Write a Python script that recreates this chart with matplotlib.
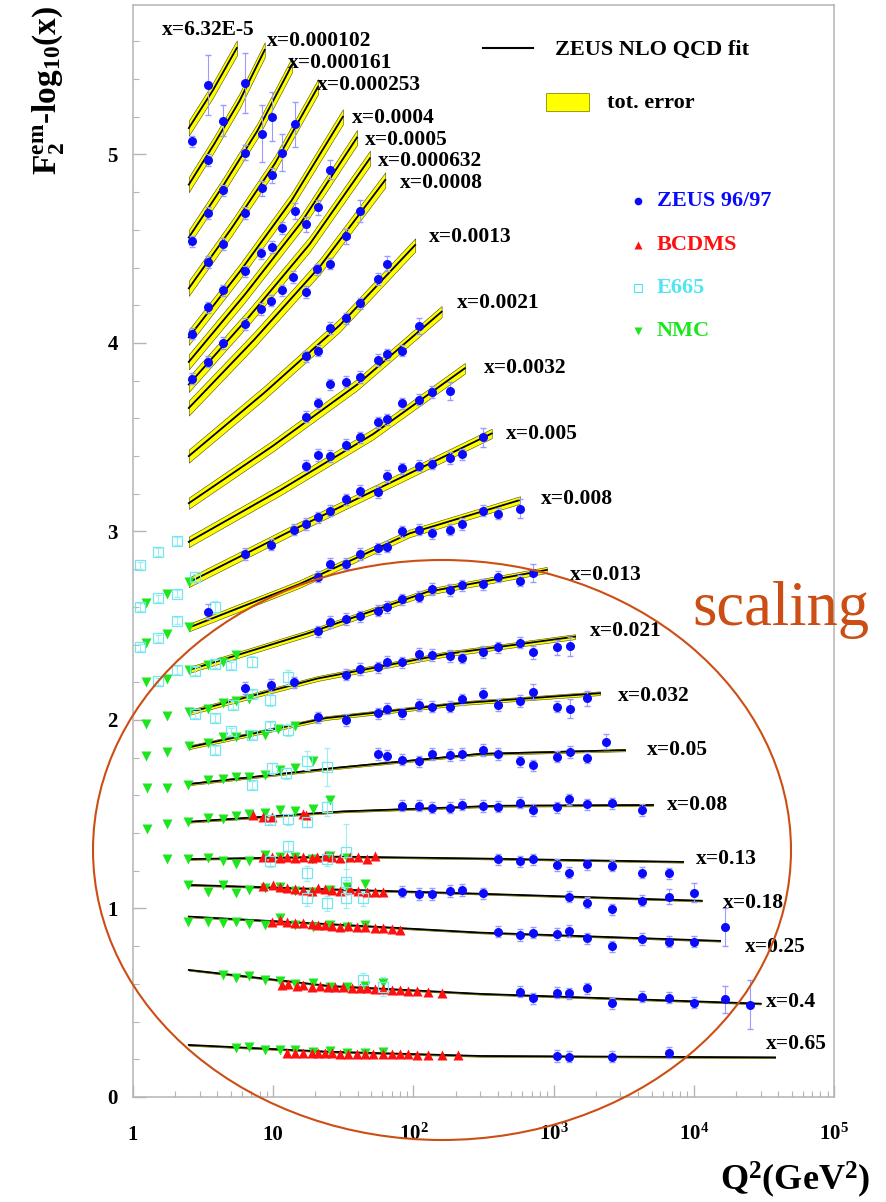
import numpy as np
import matplotlib.pyplot as plt
from matplotlib.patches import Ellipse, Rectangle
from matplotlib.lines import Line2D
import matplotlib.transforms as mtransforms

plt.rcParams['font.family'] = ['Liberation Serif', 'DejaVu Serif']
plt.rcParams['font.weight'] = 'bold'
plt.rcParams['mathtext.fontset'] = 'custom'
plt.rcParams['mathtext.rm'] = 'Liberation Serif:bold'
plt.rcParams['mathtext.it'] = 'Liberation Serif:bold'
plt.rcParams['mathtext.bf'] = 'Liberation Serif:bold'

# ---- x bins and their labels ----
bin_names = ['x=6.32E-5', 'x=0.000102', 'x=0.000161', 'x=0.000253', 'x=0.0004',
             'x=0.0005', 'x=0.000632', 'x=0.0008', 'x=0.0013', 'x=0.0021',
             'x=0.0032', 'x=0.005', 'x=0.008', 'x=0.013', 'x=0.021', 'x=0.032',
             'x=0.05', 'x=0.08', 'x=0.13', 'x=0.18', 'x=0.25', 'x=0.4', 'x=0.65']

# ---- ZEUS NLO QCD fit (Q2, F2 - log10 x) ----
fit_q2 = [
    [2.5, 3.71, 5.5],
    [2.5, 3.79, 5.74, 8.7],
    [2.5, 4.40, 7.73, 13.6],
    [2.5, 5.07, 10.3, 20.9],
    [2.5, 5.81, 13.5, 31.4],
    [2.5, 6.28, 15.8, 39.6],
    [2.5, 6.74, 18.2, 49],
    [2.5, 7.33, 21.5, 63],
    [2.5, 8.64, 29.8, 103],
    [2.5, 9.98, 39.8, 159],
    [2.5, 11.3, 51.4, 233],
    [2.5, 13.1, 69, 362],
    [2.5, 15.3, 94, 576],
    [2.5, 17.7, 126, 893],
    [2.5, 20.7, 171, 1420],
    [2.5, 23.7, 225, 2140],
    [2.5, 27.2, 297, 3230],
    [2.5, 31.7, 403, 5120],
    [2.5, 30, 300, 8380],
    [2.5, 30, 250, 11400],
    [2.5, 25, 300, 15400],
    [2.5, 25, 300, 30000],
    [2.5, 25, 300, 38000],
]
fit_val = [
    [5.14, 5.34, 5.565],
    [4.84, 5.055, 5.283, 5.555],
    [4.56, 4.835, 5.127, 5.475],
    [4.29, 4.611, 4.953, 5.36],
    [4.03, 4.381, 4.755, 5.20],
    [3.90, 4.257, 4.638, 5.09],
    [3.78, 4.14, 4.524, 4.98],
    [3.655, 4.018, 4.405, 4.865],
    [3.40, 3.736, 4.094, 4.52],
    [3.15, 3.455, 3.78, 4.166],
    [2.945, 3.221, 3.516, 3.866],
    [2.73, 3.0, 3.26, 3.52],
    [2.49, 2.72, 2.99, 3.167],
    [2.265, 2.46, 2.68, 2.796],
    [2.04, 2.22, 2.35, 2.442],
    [1.855, 2.01, 2.09, 2.142],
    [1.66, 1.745, 1.82, 1.84],
    [1.46, 1.515, 1.545, 1.549],
    [1.262, 1.275, 1.265, 1.247],
    [1.125, 1.10, 1.08, 1.041],
    [0.957, 0.917, 0.872, 0.828],
    [0.674, 0.589, 0.547, 0.495],
    [0.276, 0.24, 0.2175, 0.21],
]
fit_err = [0.04, 0.04, 0.04, 0.04, 0.04, 0.04, 0.04, 0.04, 0.035, 0.03, 0.028,
           0.025, 0.02, 0.016, 0.013, 0.01, 0.006, 0.005, 0.004, 0.004, 0.004,
           0.004, 0.004]

# ---- ZEUS 96/97 (small-x region first, then one line per x bin) ----
zeus_q2 = [2.62, 3.45, 3.45, 4.4, 6.3, 2.62, 3.45, 4.4, 6.3, 8.27, 9.75,
           3.45, 4.4, 6.3, 8.27, 9.75, 11.5, 14.3, 8.2, 9.75, 11.5, 14.3, 17.1,
           21.0, 25.4, 32.9, 41.6, 2.62, 3.45, 4.4, 6.3, 8.2, 9.6, 11.5, 13.9,
           17.1, 20.4, 25.4, 55.6, 64.5, 6.3, 4.4, 3.45, 2.65, 17.1, 21.0, 25.4,
           32.9, 41.6, 25.4, 32.9, 41.6, 55.6, 64.5, 83, 110, 21, 17.1, 32.9,
           41.6, 55.6, 64.5, 83, 110, 136, 182, 25.4, 21, 17.1, 64.5, 83, 110,
           136, 182, 223, 316, 6.3, 9.6, 14.1, 17.1, 21, 25.4, 32.9, 41.6, 55.6,
           21, 25.4, 32.9, 41.6, 55.6, 64.5, 83, 110, 136, 182, 223, 316, 404, 572,
           21, 25.4, 32.9, 41.6, 55.6, 64.5, 83, 110, 136, 182, 223, 316, 404, 572, 718,
           3.45,
           6.3, 9.6, 14.1, 32.9, 41.6, 55.6, 64.5, 83, 110, 136, 182, 223, 316, 404, 572, 718, 1050, 1310,
           21, 32.9, 55.6, 64.5, 83, 110, 136, 182, 223, 316, 404, 572, 718, 1050, 1310, 1730,
           55.6, 64.5, 83, 110, 136, 182, 223, 316, 404, 572, 709, 1050, 1310, 1730, 2370,
           83, 110, 136, 182, 223, 312, 403, 576, 709, 1052, 1295, 1722, 2600, 4250,
           403, 576, 709, 1052, 1295, 1722, 2600, 4250, 6650,
           83, 110, 136, 182, 223, 312, 1295, 1722, 2600, 4250, 6650, 10100,
           403, 576, 709, 1052, 1295, 1722, 2600, 4250, 6650, 10100, 16600,
           576, 709, 1052, 1295, 1722, 2600, 4250, 6650, 10100, 16600, 25000,
           1052, 1295, 2600, 6650]
zeus_f2 = [5.07, 5.37, 4.97, 5.18, 5.38, 4.54, 4.69, 4.81, 5.01, 5.11, 5.20,
           4.43, 4.525, 4.69, 4.82, 4.89, 5.01, 5.16, 4.475, 4.51, 4.61, 4.70, 4.63,
           4.72, 4.92, 4.565, 4.70, 4.05, 4.19, 4.28, 4.38, 4.18, 4.225, 4.28, 4.35,
           4.27, 4.39, 4.42, 4.34, 4.42, 4.10, 4.00, 3.90, 3.81, 3.93, 3.96, 4.08,
           4.13, 4.21, 3.78, 3.795, 3.82, 3.91, 3.94, 3.96, 4.09, 3.68, 3.61, 3.46,
           3.50, 3.58, 3.595, 3.68, 3.70, 3.74, 3.745, 3.40, 3.405, 3.35, 3.295, 3.335, 3.35,
           3.36, 3.39, 3.41, 3.50, 2.88, 2.93, 3.01, 3.04, 3.075, 3.11, 3.17, 3.215, 3.21,
           2.76, 2.83, 2.83, 2.88, 2.91, 2.92, 3.00, 3.01, 2.99, 3.01, 3.04, 3.11, 3.095, 3.12,
           2.47, 2.52, 2.535, 2.55, 2.58, 2.60, 2.64, 2.655, 2.695, 2.69, 2.715, 2.72, 2.76, 2.74, 2.78,
           2.575,
           2.17, 2.185, 2.20, 2.24, 2.27, 2.28, 2.31, 2.305, 2.35, 2.345, 2.34, 2.33, 2.36, 2.385, 2.41, 2.36, 2.385, 2.39,
           2.015, 2.00, 2.035, 2.06, 2.035, 2.08, 2.07, 2.07, 2.11, 2.14, 2.08, 2.10, 2.15, 2.07, 2.06, 2.115,
           1.82, 1.81, 1.79, 1.78, 1.82, 1.815, 1.82, 1.84, 1.82, 1.78, 1.76, 1.805, 1.83, 1.80, 1.885,
           1.545, 1.545, 1.535, 1.535, 1.55, 1.544, 1.54, 1.561, 1.523, 1.537, 1.58, 1.553, 1.558, 1.523,
           1.26, 1.25, 1.26, 1.23, 1.19, 1.235, 1.227, 1.19, 1.187,
           1.09, 1.077, 1.077, 1.093, 1.098, 1.08, 1.063, 1.031, 0.996, 1.042, 1.063, 1.084,
           0.877, 0.86, 0.872, 0.865, 0.88, 0.842, 0.80, 0.838, 0.824, 0.824, 0.90,
           0.559, 0.524, 0.553, 0.55, 0.577, 0.497, 0.532, 0.527, 0.50, 0.518, 0.49,
           0.217, 0.214, 0.214, 0.235]
zeus_err = [0.03, 0.16, 0.03, 0.08, 0.16, 0.03, 0.03, 0.03, 0.04, 0.15, 0.13,
            0.03, 0.03, 0.03, 0.04, 0.04, 0.10, 0.12, 0.03, 0.03, 0.03, 0.04, 0.04,
            0.04, 0.05, 0.04, 0.06, 0.03, 0.03, 0.03, 0.03, 0.03, 0.03, 0.03, 0.03,
            0.03, 0.03, 0.03, 0.03, 0.04, 0.03, 0.03, 0.03, 0.03, 0.03, 0.03, 0.03,
            0.03, 0.03, 0.03, 0.03, 0.03, 0.03, 0.03, 0.03, 0.04, 0.03, 0.03, 0.03,
            0.03, 0.03, 0.03, 0.03, 0.03, 0.03, 0.05, 0.03, 0.03, 0.03, 0.03, 0.03, 0.03,
            0.03, 0.03, 0.03, 0.05, 0.03, 0.03, 0.03, 0.03, 0.03, 0.03, 0.03, 0.03, 0.03,
            0.03, 0.03, 0.03, 0.03, 0.03, 0.03, 0.03, 0.03, 0.03, 0.03, 0.03, 0.03, 0.03, 0.05,
            0.03, 0.03, 0.03, 0.03, 0.03, 0.03, 0.03, 0.03, 0.03, 0.03, 0.03, 0.03, 0.03, 0.03, 0.05,
            0.04,
            0.03, 0.03, 0.03, 0.03, 0.03, 0.03, 0.03, 0.03, 0.03, 0.03, 0.03, 0.03, 0.03, 0.03, 0.03, 0.035, 0.04, 0.05,
            0.03, 0.03, 0.03, 0.03, 0.03, 0.03, 0.03, 0.03, 0.03, 0.03, 0.03, 0.03, 0.04, 0.03, 0.05, 0.04,
            0.03, 0.03, 0.03, 0.03, 0.03, 0.03, 0.03, 0.03, 0.03, 0.03, 0.03, 0.03, 0.03, 0.03, 0.04,
            0.03, 0.03, 0.03, 0.03, 0.03, 0.03, 0.03, 0.03, 0.03, 0.03, 0.03, 0.03, 0.03, 0.03,
            0.03, 0.03, 0.03, 0.03, 0.03, 0.03, 0.03, 0.03, 0.03,
            0.03, 0.03, 0.03, 0.03, 0.03, 0.03, 0.03, 0.03, 0.03, 0.03, 0.04, 0.05,
            0.03, 0.03, 0.03, 0.03, 0.03, 0.03, 0.03, 0.03, 0.03, 0.03, 0.10,
            0.03, 0.03, 0.03, 0.03, 0.03, 0.03, 0.03, 0.03, 0.03, 0.07, 0.13,
            0.03, 0.03, 0.03, 0.03]

# ---- NMC ----
nmc_q2 = [1.24, 1.74, 2.52,
          1.24, 1.74, 2.52,
          1.24, 1.74, 2.52, 3.45, 4.4, 5.42,
          1.24, 1.74, 2.52, 3.45, 4.4, 5.42, 6.67,
          1.24, 1.74, 2.52, 3.45, 4.4, 5.42, 6.67, 8.7, 10.9, 14.3,
          1.25, 1.74, 2.48, 3.45, 4.4, 5.42, 6.75, 8.7, 11.2, 14.3, 19.1,
          1.25, 1.74, 2.48, 3.45, 4.4, 5.42, 6.75, 8.7, 11.2, 14.3, 19.1, 25.4,
          1.74, 2.48, 3.45, 4.4, 5.42, 6.75, 8.7, 11.2, 14.3, 18.8, 25.4, 33.5,
          2.48, 3.45, 4.4, 5.42, 6.75, 8.7, 11.2, 14.3, 19.1, 25.4, 33.5, 45,
          2.48, 3.45, 4.4, 5.42, 6.75, 8.7, 11.2, 14.3, 19.1, 25.4, 33.5, 45,
          4.4, 5.42, 6.75, 8.7, 11.2, 14.3, 19.1, 25.4, 33.5, 45, 61,
          5.42, 6.75, 8.7, 11.2, 14.3, 19.1, 25.4, 33.5, 45, 61]
nmc_f2 = [2.62, 2.67, 2.73,
          2.41, 2.455, 2.495,
          2.20, 2.22, 2.265, 2.29, 2.31, 2.345,
          1.98, 2.02, 2.04, 2.06, 2.09, 2.10, 2.11,
          1.81, 1.83, 1.86, 1.88, 1.91, 1.91, 1.92, 1.92, 1.95, 1.97,
          1.64, 1.64, 1.655, 1.68, 1.685, 1.695, 1.70, 1.71, 1.735, 1.745, 1.78,
          1.42, 1.45, 1.46, 1.48, 1.475, 1.49, 1.50, 1.505, 1.52, 1.515, 1.53, 1.575,
          1.265, 1.265, 1.27, 1.25, 1.235, 1.25, 1.285, 1.275, 1.275, 1.265, 1.28, 1.27,
          1.125, 1.085, 1.125, 1.08, 1.10, 1.107, 1.115, 1.095, 1.09, 1.10, 1.115, 1.13,
          0.93, 0.93, 0.925, 0.93, 0.92, 0.91, 0.95, 0.91, 0.90, 0.91, 0.90, 0.91,
          0.647, 0.63, 0.64, 0.62, 0.617, 0.60, 0.603, 0.585, 0.585, 0.59, 0.603,
          0.258, 0.267, 0.25, 0.25, 0.25, 0.24, 0.244, 0.235, 0.235, 0.237]

# ---- BCDMS ----
bcdms_q2 = [7.21, 8.42, 9.75, 16.2, 17.1,
            8.42, 9.76, 11.2, 12.5, 14.3, 16.4, 18.8, 20.4, 23.4, 26.1, 29.9, 35.3, 40.4, 46.5, 53.2,
            8.5, 9.9, 11.2, 12.5, 14.3, 16.4, 18.8, 21.0, 23.4, 26.1, 29.9, 35.3, 40.4, 46.5, 53.2, 61.0,
            9.76, 11.2, 12.5, 14.3, 16.4, 18.8, 21.0, 23.4, 26.1, 29.9, 34.4, 39.4, 45.1, 53.2, 61.0, 70.0, 80.2,
            11.5, 12.8, 14.7, 16.4, 18.8, 21.6, 24.7, 27.6, 31.6, 36.3, 41.6, 46.5, 53.2, 61.0, 70.0,
            80.2, 92.0, 105.6, 127.7, 159,
            12.5, 14.3, 16.4, 18.8, 21.0, 23.4, 26.1, 29.9, 34.4, 39.4, 45.1, 51.7, 61.0, 70.0, 80.2,
            92.0, 105.6, 127.7, 159, 209]
bcdms_f2 = [1.496, 1.487, 1.484, 1.50, 1.495,
            1.275, 1.272, 1.266, 1.272, 1.266, 1.275, 1.266, 1.272, 1.279, 1.272, 1.266, 1.272, 1.275,
            1.261, 1.279,
            1.121, 1.125, 1.116, 1.110, 1.102, 1.098, 1.094, 1.107, 1.102, 1.098, 1.094, 1.102, 1.094,
            1.089, 1.089, 1.089,
            0.930, 0.939, 0.930, 0.925, 0.921, 0.918, 0.912, 0.912, 0.907, 0.903, 0.907, 0.900, 0.900,
            0.895, 0.895, 0.890, 0.886,
            0.594, 0.598, 0.589, 0.594, 0.585, 0.589, 0.585, 0.582, 0.582, 0.580, 0.577, 0.577, 0.571,
            0.571, 0.568, 0.568, 0.564, 0.564, 0.559, 0.553,
            0.235, 0.235, 0.235, 0.232, 0.232, 0.232, 0.232, 0.228, 0.228, 0.228, 0.228, 0.228, 0.227,
            0.227, 0.227, 0.227, 0.223, 0.223, 0.223, 0.223]

# ---- E665 ----
e665_q2 = [2.05, 1.52, 1.12, 2.77, 2.05, 1.52, 1.12, 3.84, 2.05, 1.52, 1.12, 2.77, 2.05, 1.52,
           3.84, 4.98, 7.03, 2.77, 3.84, 5.14, 7.03, 9.5, 12.8, 3.84, 4.98, 7.03, 9.5, 12.8,
           7.03, 9.75, 12.4, 17.3, 24, 9.5, 12.8, 17.3, 24, 12.8, 9.5, 17.3, 24, 33, 33,
           17.3, 24, 33, 43.9, 43.9, 61]
e665_f2 = [2.95, 2.89, 2.82, 2.757, 2.67, 2.645, 2.60, 2.60, 2.527, 2.433, 2.385, 2.26, 2.265,
           2.205, 2.297, 2.29, 2.31, 2.03, 2.01, 2.08, 2.14, 2.106, 2.226, 1.84, 1.94, 1.92, 1.97,
           1.947, 1.655, 1.744, 1.717, 1.784, 1.752, 1.47, 1.473, 1.46, 1.54, 1.33, 1.25, 1.187,
           1.265, 1.30, 1.14, 1.054, 1.027, 1.054, 1.054, 0.62, 0.585]
e665_err = [0.02, 0.02, 0.02, 0.02, 0.02, 0.02, 0.02, 0.03, 0.02, 0.02, 0.02, 0.02, 0.02,
            0.02, 0.02, 0.02, 0.03, 0.02, 0.02, 0.02, 0.02, 0.03, 0.04, 0.02, 0.02, 0.02, 0.02,
            0.03, 0.02, 0.03, 0.03, 0.05, 0.10, 0.02, 0.03, 0.03, 0.05, 0.03, 0.03, 0.04,
            0.04, 0.15, 0.07, 0.04, 0.04, 0.05, 0.04, 0.04, 0.05]

# label anchors for the x bins (Q2, value)
label_q2 = [1.60, 9.03, 12.8, 20.4, 36.3, 45.2, 56.2, 80.2, 129, 204, 319, 457, 809, 1309,
            1819, 2897, 4617, 6410, 10320, 16250, 23190, 32730, 32730]
label_y = [5.66, 5.602, 5.484, 5.369, 5.192, 5.077, 4.966, 4.85, 4.564, 4.21, 3.866, 3.517,
           3.171, 2.769, 2.474, 2.129, 1.84, 1.549, 1.262, 1.031, 0.797, 0.505, 0.279]

xtick_vals = [1, 10, 100, 1000, 1e4, 1e5]
xtick_text = ['1', '10', r'10$^{2}$', r'10$^{3}$', r'10$^{4}$', r'10$^{5}$']
ytick_vals = [0, 1, 2, 3, 4, 5]

W, H = 886, 1202
fig = plt.figure(figsize=(W / 100, H / 100), dpi=100)
ax = fig.add_axes([133 / W, 105 / H, 701 / W, 1092 / H])
ax.set_xscale('log')
ax.set_xlim(1, 1e5)
ax.set_ylim(0, 5.793)

frame = '#b4b4b4'
for s in ax.spines.values():
    s.set_color(frame)
    s.set_linewidth(1.1)
ax.tick_params(which='both', direction='in', color=frame, top=False, right=False)
ax.tick_params(which='major', length=9, width=1.0)
ax.tick_params(which='minor', length=4.5, width=0.8)
ax.set_yticks(ytick_vals)
ax.set_yticks(np.arange(0, 5.8, 0.2), minor=True)
ax.set_yticklabels([str(v) for v in ytick_vals], fontsize=15, fontweight='bold')
ax.tick_params(axis='y', pad=11)
ax.set_xticks(xtick_vals)
ax.set_xticklabels([])
ax.xaxis.set_minor_formatter(plt.NullFormatter())

trans = mtransforms.blended_transform_factory(ax.transData, ax.transAxes)
for v, t in zip(xtick_vals, xtick_text):
    ax.text(v, -0.0394, t, transform=trans, ha='center', va='baseline',
            fontsize=15, fontweight='bold', clip_on=False)

# fit curves with error bands
for q, v, e in zip(fit_q2, fit_val, fit_err):
    q = np.array(q)
    v = np.array(v)
    ax.fill_between(q, v - e, v + e, facecolor='#ffff00', edgecolor='#4a4a00',
                    linewidth=0.4, zorder=2)
    ax.plot(q, v, color='k', lw=1.3, zorder=3)

for name, q, y in zip(bin_names, label_q2, label_y):
    ax.text(q, y, name, ha='left', va='center', fontsize=15.5, fontweight='bold',
            zorder=6, clip_on=False)

ax.errorbar(e665_q2, e665_f2, yerr=e665_err, fmt='s', ms=6.5, mfc='none',
            mec='#74e6ee', mew=0.9, ecolor='#9eeef3', elinewidth=0.8, capsize=2.5,
            zorder=4)
ax.plot(nmc_q2, nmc_f2, 'v', color='#1ee61e', ms=6.5, mec='none', zorder=4)
ax.plot(bcdms_q2, bcdms_f2, '^', color='#ff1010', ms=6.5, mec='none', zorder=4)
ax.errorbar(zeus_q2, zeus_f2, yerr=zeus_err, fmt='o', ms=6.5, color='#0a0aff',
            mec='none', ecolor='#9a9aff', elinewidth=0.8, capsize=2.5, zorder=5)

# legend (drawn by hand)
T = ax.transAxes
ax.add_line(Line2D([0.4993, 0.5706], [0.9609, 0.9609], color='k', lw=1.5, transform=T))
ax.text(0.602, 0.9591, 'ZEUS NLO QCD fit', transform=T, fontsize=16,
        fontweight='bold', va='center', ha='left')
ax.add_patch(Rectangle((0.5887, 0.9029), 0.0618, 0.0162, transform=T,
                       facecolor='#ffff00', edgecolor='#8c8c00', lw=0.6))
ax.text(0.6757, 0.910, 'tot. error', transform=T, fontsize=16,
        fontweight='bold', va='center', ha='left')
leg_items = [('ZEUS 96/97', 'o', '#0a0aff', 0.8205),
             ('BCDMS', '^', '#ff1010', 0.7802),
             ('E665', 's', '#4ee6f0', 0.7408),
             ('NMC', 'v', '#1ee61e', 0.7015)]
for txt, m, c, fy in leg_items:
    if m == 's':
        ax.plot([0.7208], [fy], m, ms=5.5, mfc='none', mec=c, mew=0.8, transform=T)
    else:
        ax.plot([0.7208], [fy], m, ms=5.5, color=c, mec='none', transform=T)
    ax.text(0.7471, fy, txt, transform=T, fontsize=16, fontweight='bold',
            color=c, va='center', ha='left')

fig.text(48 / W, 1 - 90 / H, r'F$_{2}^{em}$-log$_{10}$(x)', rotation=90,
         ha='center', va='center', fontsize=24, fontweight='bold')
fig.text(870 / W, 1 - 1180 / H, r'Q$^{2}$(GeV$^{2}$)', ha='right', va='center',
         fontsize=26, fontweight='bold')

ring = '#cc4e14'
fig.add_artist(Ellipse((442 / W, 1 - 850 / H), 698 / W, 580 / H,
                       transform=fig.transFigure, fill=False, edgecolor=ring, lw=1.5))
fig.text(692 / W, 1 - 625 / H, 'scaling', fontsize=45, fontweight='normal',
         color=ring, ha='left', va='baseline')

fig.savefig('out.png', dpi=100)
